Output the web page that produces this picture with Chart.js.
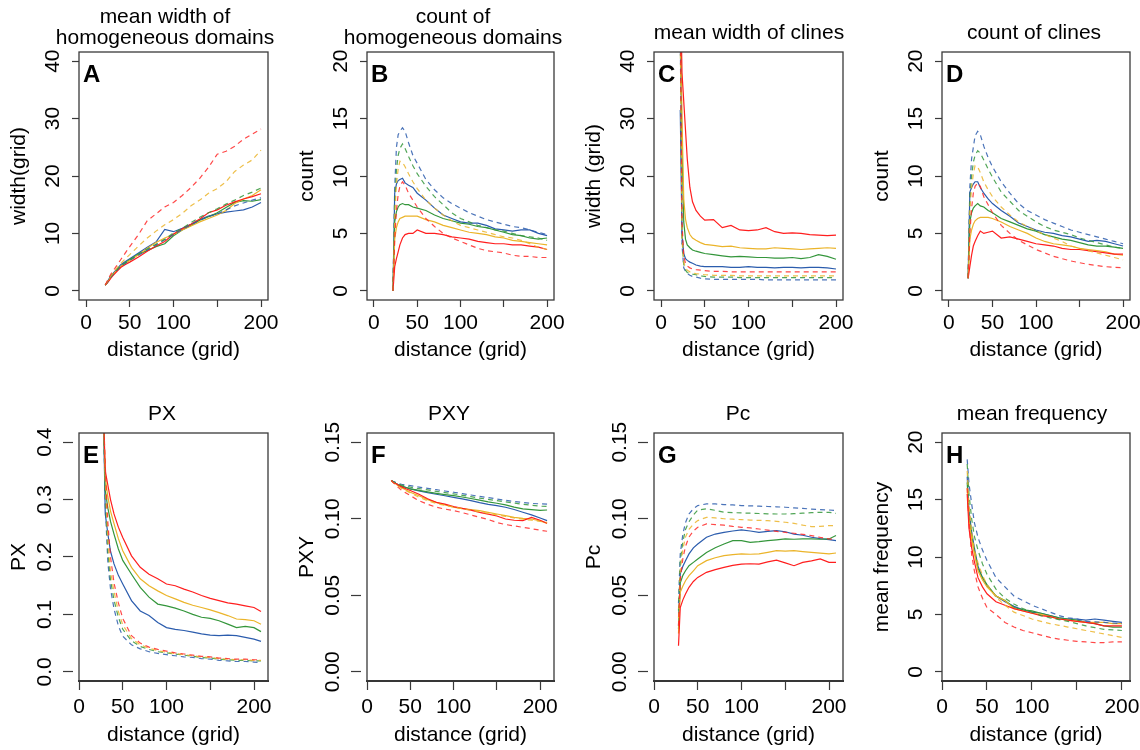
<!DOCTYPE html>
<html><head><meta charset="utf-8">
<script src="https://cdn.jsdelivr.net/npm/chart.js@4.4.1/dist/chart.umd.min.js"></script>
<style>
html,body{margin:0;padding:0;background:#fff;overflow:hidden;width:1140px;height:750px;}
#wrap{position:relative;width:1140px;height:750px;overflow:hidden;background:#fff;}
canvas{position:absolute;}
</style></head><body><div id="wrap"></div>
<script>
// ---------------- DATA ----------------
const xTop = [22,24,26,28,30,33,36,40,45,50,60,70,80,90,100,110,120,130,140,150,160,170,180,190,200];
const xBottom = [28,30,33,36,40,45,50,60,70,80,90,100,110,120,130,140,150,160,170,180,190,200,208];
const xH = [28,30,33,36,40,45,50,60,70,80,90,100,110,120,130,140,150,160,170,180,190,200];

const xTicks = [0,50,100,150,200];
const xTickLabels = ['0','50','100','','200'];
const yTicks40 = [0,10,20,30,40];
const yTicks40Labels = ['0','10','20','30','40'];
const yTicks20 = [0,5,10,15,20];
const yTicks20Labels = ['0','5','10','15','20'];
const yTicksPX = [0,0.1,0.2,0.3,0.4];
const yTicksPXLabels = ['0.0','0.1','0.2','0.3','0.4'];
const yTicksP = [0,0.05,0.10,0.15];
const yTicksPLabels = ['0.00','0.05','0.10','0.15'];

const panelLetters = ['A','B','C','D','E','F','G','H'];
const panelTitles = [['mean width of','homogeneous domains'], ['count of','homogeneous domains'], 'mean width of clines', 'count of clines', 'PX', 'PXY', 'Pc', 'mean frequency'];
const yTitles = ['width(grid)','count','width (grid)','count','PX','PXY','Pc','mean frequency'];
const xTitle = 'distance (grid)';
const seriesNames = ['red','yellow','green','blue'];

// A: mean width of homogeneous domains
const A_redS = [1.0,1.3,1.7,2.1,2.5,3.0,3.5,4.1,4.6,5.0,5.9,6.9,7.8,8.6,9.9,10.8,11.6,12.5,13.6,14.1,14.9,15.5,16.0,16.4,16.9];
const A_yelS = [1.0,1.4,1.8,2.3,2.7,3.2,3.7,4.3,4.8,5.3,6.3,7.4,8.4,9.2,9.8,10.6,11.3,12.0,12.6,13.2,14.0,15.2,16.0,16.6,17.6];
const A_grnS = [1.0,1.4,1.8,2.3,2.7,3.2,3.7,4.3,4.9,5.4,6.4,7.0,7.7,8.2,9.6,10.6,11.4,12.3,12.9,13.6,14.5,15.4,15.7,15.6,15.9];
const A_bluS = [1.0,1.5,2.0,2.5,2.9,3.4,3.9,4.6,5.1,5.6,6.6,7.6,8.5,10.7,10.3,10.9,11.6,12.4,13.0,13.4,13.7,13.9,14.1,14.6,15.4];
const A_redD = [1.0,1.6,2.2,2.8,3.3,3.9,4.6,5.5,6.6,7.7,9.8,12.2,13.4,14.6,15.4,16.6,18.0,19.6,21.5,23.8,24.3,25.2,26.4,27.3,28.2];
const A_yelD = [1.0,1.5,2.0,2.5,2.9,3.5,4.1,4.8,5.6,6.3,7.8,9.2,10.4,11.5,12.4,13.5,14.8,15.8,17.0,17.8,19.0,20.8,21.9,22.8,24.5];
const A_grnD = [1.0,1.4,1.9,2.4,2.8,3.3,3.8,4.4,4.9,5.4,6.4,7.3,8.1,9.0,10.1,10.9,11.9,12.8,13.6,14.3,15.1,15.8,16.6,17.2,17.9];
const A_bluD = [1.0,1.4,1.8,2.3,2.7,3.2,3.7,4.3,4.8,5.3,6.2,7.1,8.0,8.9,9.8,10.7,11.5,12.3,12.9,13.4,14.1,14.8,15.3,15.8,16.2];

// B: count of homogeneous domains
const B_redS = [0,2.1,2.8,3.4,4.0,4.6,4.9,5.0,5.0,5.3,5.0,5.0,4.9,4.7,4.6,4.5,4.3,4.2,4.1,4.1,4.0,4.0,3.9,3.8,3.6];
const B_yelS = [0,4.5,5.5,6.0,6.3,6.4,6.5,6.5,6.5,6.5,6.2,6.0,5.7,5.5,5.3,5.1,5.0,4.9,4.7,4.6,4.4,4.3,4.2,4.1,4.0];
const B_grnS = [0,6.0,6.9,7.3,7.5,7.6,7.5,7.5,7.3,7.2,7.0,6.6,6.3,6.1,5.9,5.8,5.6,5.5,5.3,5.1,4.9,4.8,4.6,4.5,4.6];
const B_bluS = [0,8.5,9.3,9.6,9.7,9.8,9.4,9.2,9.0,8.5,7.9,7.2,6.6,6.3,6.0,5.9,5.9,5.7,5.4,5.3,5.2,5.3,5.3,5.0,4.8];
const B_redD = [0,4.5,7.0,8.4,9.1,9.5,9.2,8.5,7.9,7.3,6.3,5.6,5.0,4.6,4.3,4.0,3.7,3.5,3.4,3.3,3.1,3.0,3.0,2.9,2.9];
const B_yelD = [0,6.5,9.3,10.6,11.3,11.2,10.8,10.2,9.5,8.9,7.9,7.2,6.6,6.1,5.7,5.5,5.3,5.1,4.9,4.7,4.6,4.4,4.1,3.8,3.6];
const B_grnD = [0,7.5,10.5,11.8,12.4,12.8,12.4,11.7,10.9,10.2,9.1,8.2,7.5,6.8,6.3,6.0,5.7,5.5,5.3,5.2,5.0,4.8,4.7,4.6,4.4];
const B_bluD = [0,9.0,12.5,13.6,13.9,14.2,13.9,12.9,11.8,11.1,9.7,8.8,8.1,7.6,7.2,6.8,6.5,6.2,6.0,5.8,5.6,5.5,5.3,5.1,4.9];

// C: mean width of clines
const C_redS = [55,38,33,28,23,18,15.5,14.0,13.0,12.3,12.4,11.0,11.4,10.6,10.5,10.6,11.0,10.3,10.0,10.1,10.0,9.8,9.7,9.6,9.7];
const C_yelS = [50,30,16,12.5,11.0,9.8,9.2,8.8,8.4,8.1,7.9,7.7,7.8,7.5,7.4,7.3,7.3,7.5,7.4,7.3,7.2,7.3,7.4,7.5,7.4];
const C_grnS = [50,25,12,9.0,8.0,7.5,7.1,6.9,6.7,6.5,6.3,6.1,5.9,6.0,5.9,5.8,5.8,5.7,5.7,5.8,5.6,5.8,6.3,6.0,5.5];
const C_bluS = [31.5,10,6.5,5.6,5.3,5.0,4.8,4.5,4.3,4.2,4.2,4.2,4.1,4.1,4.2,4.1,4.1,4.0,4.1,4.1,4.0,4.1,4.1,4.0,3.8];
const C_redD = [48,12,6.0,4.8,4.3,4.0,3.8,3.7,3.6,3.5,3.4,3.4,3.3,3.3,3.3,3.3,3.3,3.3,3.3,3.3,3.3,3.3,3.3,3.3,3.3];
const C_yelD = [46,10,5.0,4.0,3.6,3.3,3.1,3.0,2.9,2.8,2.7,2.7,2.7,2.6,2.6,2.6,2.6,2.6,2.6,2.6,2.6,2.6,2.6,2.6,2.6];
const C_grnD = [46,9,4.6,3.6,3.2,3.0,2.9,2.8,2.6,2.5,2.4,2.4,2.4,2.3,2.3,2.3,2.3,2.3,2.3,2.3,2.3,2.3,2.3,2.3,2.3];
const C_bluD = [45,8,4.0,3.4,3.0,2.7,2.5,2.4,2.2,2.1,2.0,2.0,2.0,2.0,2.0,2.0,1.9,1.9,1.9,1.9,1.9,1.9,1.9,1.9,1.9];

// D: count of clines
const D_redS = [1.1,2.1,3.1,3.9,4.3,4.8,5.2,5.0,5.1,5.2,4.6,4.7,4.5,4.3,4.1,4.0,3.9,3.7,3.6,3.6,3.5,3.4,3.3,3.2,3.2];
const D_yelS = [1.1,4.5,5.3,5.8,6.1,6.3,6.4,6.4,6.4,6.3,6.0,5.6,5.3,5.0,4.6,4.3,4.1,4.0,3.9,3.7,3.6,3.5,3.4,3.2,3.1];
const D_grnS = [1.1,6.0,6.8,7.2,7.4,7.6,7.4,7.3,7.0,6.8,6.3,6.0,5.7,5.4,5.2,4.9,4.7,4.5,4.4,4.2,4.0,3.9,3.9,3.8,3.7];
const D_bluS = [1.1,8.6,9.0,9.3,9.5,9.5,9.0,8.5,8.0,7.6,7.0,6.5,5.9,5.6,5.3,5.1,5.0,4.8,4.7,4.5,4.3,4.4,4.3,4.1,3.9];
const D_redD = [1.1,5.0,7.2,8.5,9.1,9.4,9.1,8.2,7.5,6.8,5.7,5.0,4.4,4.0,3.6,3.3,3.0,2.8,2.6,2.45,2.3,2.2,2.1,2.05,2.0];
const D_yelD = [1.1,7.0,9.0,10.2,10.9,10.8,10.3,9.5,8.8,8.2,7.3,6.6,6.0,5.6,5.2,4.9,4.6,4.3,3.9,3.7,3.5,3.3,3.1,2.9,2.7];
const D_grnD = [1.1,8.0,10.0,11.2,11.8,12.2,12.0,11.4,10.6,9.9,8.6,7.8,7.0,6.5,6.0,5.6,5.3,5.1,4.9,4.6,4.4,4.2,4.0,3.8,3.7];
const D_bluD = [1.1,9.1,11.5,12.5,13.5,13.9,13.6,12.6,11.6,10.8,9.5,8.5,7.6,7.0,6.6,6.2,5.9,5.6,5.3,5.1,4.9,4.7,4.5,4.3,4.1];

// E: PX
const E_redS = [0.45,0.35,0.325,0.30,0.275,0.252,0.234,0.202,0.182,0.170,0.162,0.153,0.150,0.144,0.139,0.133,0.128,0.124,0.120,0.118,0.115,0.112,0.105];
const E_yelS = [0.45,0.339,0.305,0.28,0.258,0.232,0.211,0.182,0.162,0.150,0.141,0.133,0.127,0.121,0.116,0.112,0.108,0.103,0.098,0.092,0.091,0.089,0.083];
const E_grnS = [0.45,0.316,0.285,0.262,0.240,0.214,0.194,0.170,0.147,0.130,0.118,0.115,0.111,0.106,0.100,0.095,0.093,0.089,0.083,0.077,0.079,0.077,0.070];
const E_bluS = [0.45,0.275,0.240,0.210,0.188,0.168,0.153,0.124,0.106,0.098,0.086,0.077,0.074,0.072,0.069,0.066,0.064,0.063,0.064,0.063,0.060,0.057,0.053];
const E_redD = [0.45,0.36,0.26,0.20,0.155,0.12,0.093,0.063,0.05,0.043,0.039,0.036,0.033,0.031,0.029,0.027,0.026,0.024,0.023,0.022,0.022,0.021,0.021];
const E_yelD = [0.45,0.33,0.23,0.175,0.14,0.105,0.082,0.058,0.047,0.041,0.037,0.034,0.032,0.030,0.028,0.026,0.025,0.023,0.022,0.021,0.021,0.020,0.020];
const E_grnD = [0.45,0.31,0.21,0.16,0.125,0.095,0.074,0.054,0.044,0.039,0.035,0.033,0.031,0.029,0.027,0.025,0.024,0.022,0.021,0.020,0.020,0.019,0.019];
const E_bluD = [0.45,0.29,0.19,0.145,0.11,0.08,0.062,0.047,0.040,0.035,0.032,0.030,0.028,0.026,0.025,0.023,0.022,0.020,0.019,0.018,0.018,0.017,0.016];

// F: PXY
const F_redS = [0.125,0.1242,0.1232,0.1220,0.1208,0.1196,0.1184,0.1160,0.1130,0.1107,0.1095,0.1079,0.1068,0.1056,0.1042,0.1030,0.1018,0.0998,0.0990,0.0988,0.1009,0.0990,0.0970];
const F_yelS = [0.125,0.124,0.1228,0.1216,0.1203,0.1188,0.1173,0.1150,0.1125,0.1107,0.1090,0.1075,0.1066,0.1060,0.1053,0.1042,0.1031,0.1020,0.1009,0.1002,0.0998,0.0985,0.0970];
const F_grnS = [0.125,0.1242,0.1232,0.1222,0.1213,0.1204,0.1195,0.1185,0.1175,0.1166,0.1158,0.1151,0.1142,0.1132,0.1121,0.1110,0.1101,0.1090,0.1076,0.1064,0.1060,0.1055,0.1057];
const F_bluS = [0.125,0.1242,0.1232,0.1222,0.1213,0.1204,0.1195,0.1182,0.1170,0.1160,0.1150,0.1140,0.1130,0.1118,0.1105,0.1094,0.1086,0.1075,0.1060,0.1042,0.1025,0.1005,0.0988];
const F_redD = [0.125,0.1238,0.1222,0.1205,0.1185,0.1168,0.1151,0.1118,0.1095,0.1075,0.1063,0.1053,0.1040,0.1025,0.1009,0.0995,0.0975,0.0962,0.0953,0.0944,0.0935,0.0925,0.0918];
const F_yelD = [0.125,0.1238,0.1225,0.1212,0.1198,0.1183,0.1168,0.1140,0.1118,0.1100,0.1088,0.1076,0.1066,0.1055,0.1045,0.1035,0.1025,0.1015,0.1005,0.0997,0.0990,0.0982,0.0977];
const F_grnD = [0.125,0.1243,0.1235,0.1226,0.122,0.1213,0.1206,0.1197,0.1188,0.1179,0.1171,0.1162,0.1153,0.1144,0.1135,0.1126,0.1118,0.1110,0.1102,0.1095,0.1088,0.1082,0.108];
const F_bluD = [0.125,0.1245,0.1238,0.123,0.1225,0.1220,0.1216,0.1207,0.1198,0.119,0.1181,0.1173,0.1164,0.1155,0.1146,0.1138,0.1129,0.1120,0.1112,0.1106,0.1100,0.1097,0.1095];

// G: Pc
const G_redS = [0.017,0.042,0.047,0.0508,0.0552,0.059,0.0617,0.0650,0.0668,0.0682,0.0695,0.0704,0.0706,0.0704,0.0718,0.0730,0.0712,0.0693,0.0715,0.0725,0.0737,0.0715,0.0715];
const G_yelS = [0.025,0.052,0.056,0.0595,0.0628,0.066,0.0693,0.0726,0.0745,0.0759,0.0765,0.0770,0.0768,0.0770,0.0780,0.0791,0.0788,0.0791,0.0785,0.0780,0.0775,0.0770,0.0776];
const G_grnS = [0.028,0.058,0.063,0.066,0.0693,0.0715,0.0737,0.078,0.081,0.0835,0.0857,0.0857,0.0845,0.0850,0.0857,0.0862,0.0868,0.0866,0.0868,0.0868,0.0866,0.0868,0.089];
const G_bluS = [0.030,0.064,0.069,0.0726,0.077,0.081,0.0835,0.0879,0.0900,0.0911,0.0920,0.0927,0.0920,0.0911,0.0918,0.0922,0.0915,0.0900,0.0892,0.0879,0.0870,0.0863,0.0857];
const G_redD = [0.030,0.060,0.074,0.082,0.088,0.092,0.0944,0.0966,0.0962,0.0958,0.0950,0.0944,0.0940,0.0933,0.0925,0.0918,0.0911,0.0905,0.0898,0.0890,0.0878,0.0868,0.0866];
const G_yelD = [0.035,0.066,0.080,0.088,0.093,0.0965,0.0988,0.1009,0.1005,0.1000,0.0997,0.0994,0.0991,0.0989,0.0988,0.0983,0.0977,0.0970,0.0958,0.0948,0.0950,0.0955,0.0955];
const G_grnD = [0.040,0.072,0.085,0.093,0.098,0.1025,0.1057,0.1065,0.1055,0.1042,0.1040,0.1038,0.1036,0.1034,0.1032,0.1031,0.1031,0.1033,0.1036,0.1040,0.1042,0.1042,0.1035];
const G_bluD = [0.045,0.077,0.090,0.0975,0.1031,0.1065,0.1086,0.1097,0.1097,0.1092,0.1090,0.1086,0.1084,0.1082,0.1080,0.1078,0.1075,0.1071,0.1067,0.1063,0.1060,0.1057,0.1053];

// H: mean frequency
const H_redS = [15.5,12.5,10.8,9.6,8.2,7.4,6.8,6.1,5.8,5.5,5.3,5.1,4.9,4.8,4.6,4.5,4.4,4.3,4.2,4.0,4.0,4.0];
const H_yelS = [16.0,13.2,11.5,10.3,8.8,8.0,7.4,6.6,6.2,5.5,5.3,5.1,5.0,4.8,4.6,4.5,4.4,4.3,4.3,4.3,4.2,4.2];
const H_grnS = [16.5,13.5,11.8,10.5,9.0,8.2,7.6,6.6,6.2,5.6,5.4,5.3,5.1,4.9,4.7,4.6,4.5,4.3,4.2,4.0,3.9,3.9];
const H_bluS = [17.0,14.0,12.2,10.8,9.2,8.2,7.5,6.6,6.1,5.7,5.4,5.2,5.1,4.9,4.7,4.6,4.6,4.5,4.6,4.5,4.4,4.3];
const H_redD = [16.0,13.0,10.2,8.8,7.4,6.4,5.6,5.0,4.3,3.9,3.6,3.4,3.2,3.0,2.85,2.75,2.65,2.6,2.55,2.55,2.6,2.6];
const H_yelD = [17.5,14.5,12.2,10.6,9.5,8.4,7.6,6.5,5.8,5.2,4.9,4.6,4.4,4.2,4.05,3.9,3.75,3.6,3.45,3.3,3.15,3.0];
const H_grnD = [18.1,15.5,13.3,11.8,10.6,9.4,8.5,7.2,6.4,5.9,5.5,5.2,4.9,4.7,4.55,4.4,4.2,4.0,3.85,3.7,3.65,3.6];
const H_bluD = [18.5,16.4,14.6,13.0,11.7,10.6,9.7,8.2,7.4,6.6,6.2,5.8,5.5,5.2,4.9,4.7,4.6,4.4,4.35,4.3,4.25,4.2];

// ---------------- STYLE / LAYOUT ----------------
const lineColors = ['#ff1e1e','#ebb42a','#34963b','#2b5cad'];
const dashColors = ['rgba(255,40,40,0.85)','rgba(235,180,42,0.85)','rgba(52,150,59,0.85)','rgba(43,92,173,0.85)'];
const FONT = 21;
const FAMILY = '"Liberation Sans", Arial, Helvetica, sans-serif';
Chart.defaults.font.family = FAMILY;
Chart.defaults.color = '#000';

const panels = [
  {g:{l:79,r:268,t:52,b:300,tc:165,ty:17,row:0}, xs:xTop, xr:[-8,208], yr:[-1.6,41.6], yt:yTicks40, yl:yTicks40Labels, det:false,
   solid:[A_redS,A_yelS,A_grnS,A_bluS], dash:[A_redD,A_yelD,A_grnD,A_bluD]},
  {g:{l:367,r:554,t:52,b:300,tc:453,ty:17,row:0}, xs:xTop, xr:[-8,208], yr:[-0.8,20.8], yt:yTicks20, yl:yTicks20Labels, det:false,
   solid:[B_redS,B_yelS,B_grnS,B_bluS], dash:[B_redD,B_yelD,B_grnD,B_bluD]},
  {g:{l:654,r:843,t:52,b:300,tc:749,ty:33,row:0}, xs:xTop, xr:[-8,208], yr:[-1.6,41.6], yt:yTicks40, yl:yTicks40Labels, det:false,
   solid:[C_redS,C_yelS,C_grnS,C_bluS], dash:[C_redD,C_yelD,C_grnD,C_bluD]},
  {g:{l:942,r:1130,t:52,b:300,tc:1034,ty:33,row:0}, xs:xTop, xr:[-8,208], yr:[-0.8,20.8], yt:yTicks20, yl:yTicks20Labels, det:false,
   solid:[D_redS,D_yelS,D_grnS,D_bluS], dash:[D_redD,D_yelD,D_grnD,D_bluD]},
  {g:{l:79,r:268,t:433,b:681,tc:162,ty:414,row:1}, xs:xBottom, xr:[0,216], yr:[-0.016,0.416], yt:yTicksPX, yl:yTicksPXLabels, det:true,
   solid:[E_redS,E_yelS,E_grnS,E_bluS], dash:[E_redD,E_yelD,E_grnD,E_bluD]},
  {g:{l:367,r:554,t:433,b:681,tc:449,ty:414,row:1}, xs:xBottom, xr:[0,216], yr:[-0.006,0.156], yt:yTicksP, yl:yTicksPLabels, det:true,
   solid:[F_redS,F_yelS,F_grnS,F_bluS], dash:[F_redD,F_yelD,F_grnD,F_bluD]},
  {g:{l:654,r:843,t:433,b:681,tc:738,ty:414,row:1}, xs:xBottom, xr:[0,216], yr:[-0.006,0.156], yt:yTicksP, yl:yTicksPLabels, det:true,
   solid:[G_redS,G_yelS,G_grnS,G_bluS], dash:[G_redD,G_yelD,G_grnD,G_bluD]},
  {g:{l:942,r:1130,t:433,b:681,tc:1032,ty:414,row:1}, xs:xH, xr:[0,209], yr:[-0.8,20.8], yt:yTicks20, yl:yTicks20Labels, det:false,
   solid:[H_redS,H_yelS,H_grnS,H_bluS], dash:[H_redD,H_yelD,H_grnD,H_bluD]}
];

const meas = document.createElement('canvas').getContext('2d');
meas.font = 'normal ' + FONT + 'px ' + FAMILY;
function widest(labels){ return Math.max(...labels.map(t => meas.measureText(t).width)); }
function pts(xs, ys){ return xs.map((x, i) => ({x: x, y: ys[i]})); }

const framePlugin = {
  id: 'panelFrame',
  afterDraw(chart, args, opts) {
    const {ctx, chartArea: a} = chart;
    ctx.save();
    ctx.strokeStyle = '#3a3a3a';
    ctx.lineWidth = 1.3;
    ctx.strokeRect(a.left, a.top, a.right - a.left, a.bottom - a.top);
    ctx.fillStyle = '#000';
    ctx.font = 'bold 24px ' + FAMILY;
    ctx.textAlign = 'left';
    ctx.textBaseline = 'alphabetic';
    ctx.fillText(opts.letter, a.left + 4, a.top + 30);
    ctx.restore();
  }
};

const wrap = document.getElementById('wrap');

panels.forEach((p, k) => {
  const g = p.g;
  const rowTop = g.row ? 375 : 0;
  const HC = 375;
  const cl = g.l - 79;
  const S = 2 * (g.tc - cl);
  const rw = S - (g.r - cl);
  const canvas = document.createElement('canvas');
  canvas.width = S; canvas.height = HC;
  canvas.style.left = cl + 'px'; canvas.style.top = rowTop + 'px';
  wrap.appendChild(canvas);

  const title = panelTitles[k];
  const nLines = Array.isArray(title) ? title.length : 1;
  const tPadTop = (g.ty - rowTop) - FONT / 2;
  const tPadBot = (g.t - rowTop) - tPadTop - nLines * FONT;
  const xAxisH = HC - (g.b - rowTop);

  const ytl = p.det ? 16 : 7;
  const yDist = p.det ? 34 : 26;
  const ypad = yDist - ytl - widest(p.yl) / 2;
  const xtl = g.row ? 9 : 7;
  const xpad = g.row ? 4.4 : 3.4;
  const xTitlePad = g.row ? 2.4 : 12.4;

  const datasets = [];
  for (let c = 0; c < 4; c++) {
    datasets.push({label: seriesNames[c] + ' (dashed)', data: pts(p.xs, p.dash[c]), borderColor: dashColors[c],
      borderWidth: 1.2, borderDash: [5, 4], pointRadius: 0, fill: false, tension: 0});
  }
  for (let c = 0; c < 4; c++) {
    datasets.push({label: seriesNames[c] + ' (solid)', data: pts(p.xs, p.solid[c]), borderColor: lineColors[c],
      borderWidth: 1.2, pointRadius: 0, fill: false, tension: 0});
  }

  new Chart(canvas, {
    type: 'line',
    data: {datasets},
    plugins: [framePlugin],
    options: {
      responsive: false,
      animation: false,
      events: [],
      layout: {padding: 0},
      plugins: {
        legend: {display: false},
        tooltip: {enabled: false},
        title: {display: true, text: title, color: '#000', fullSize: true, align: 'center',
          font: {size: FONT, weight: 'normal', lineHeight: 1}, padding: {top: tPadTop, bottom: tPadBot}},
        panelFrame: {letter: panelLetters[k]}
      },
      scales: {
        x: {
          type: 'linear', position: 'bottom', min: p.xr[0], max: p.xr[1],
          afterBuildTicks: s => { s.ticks = xTicks.map(v => ({value: v})); },
          afterFit: s => { s.height = xAxisH; },
          ticks: {autoSkip: false, maxRotation: 0, minRotation: 0, padding: xpad, color: '#000',
            font: {size: FONT, lineHeight: 1.2}, callback: (v, i) => xTickLabels[i]},
          grid: {drawOnChartArea: false, drawTicks: true, tickLength: xtl, tickColor: '#3a3a3a', tickWidth: 1.2},
          border: {display: g.row === 1, color: '#333', width: 2},
          title: {display: true, text: xTitle, color: '#000', font: {size: FONT, lineHeight: 1.2}, padding: {top: 0, bottom: xTitlePad}}
        },
        y: {
          type: 'linear', position: 'left', min: p.yr[0], max: p.yr[1],
          afterBuildTicks: s => { s.ticks = p.yt.map(v => ({value: v})); },
          afterFit: s => { s.width = 79; },
          ticks: {autoSkip: false, minRotation: 90, maxRotation: 90, crossAlign: 'center', padding: ypad, color: '#000',
            font: {size: FONT, lineHeight: 1.2}, callback: (v, i) => p.yl[i]},
          grid: {drawOnChartArea: false, drawTicks: true, tickLength: ytl, tickColor: '#3a3a3a', tickWidth: 1.2,
            tickBorderDash: p.det ? [10, 6] : []},
          border: {display: false},
          title: {display: true, text: yTitles[k], color: '#000', font: {size: FONT, lineHeight: 1.2}, padding: {top: 6.4, bottom: 0}}
        },
        yR: {
          position: 'right', display: true, min: 0, max: 1,
          afterFit: s => { s.width = rw; },
          ticks: {display: false},
          grid: {display: false, drawTicks: false},
          border: {display: false},
          title: {display: false}
        }
      }
    }
  });
});
</script></body></html>
